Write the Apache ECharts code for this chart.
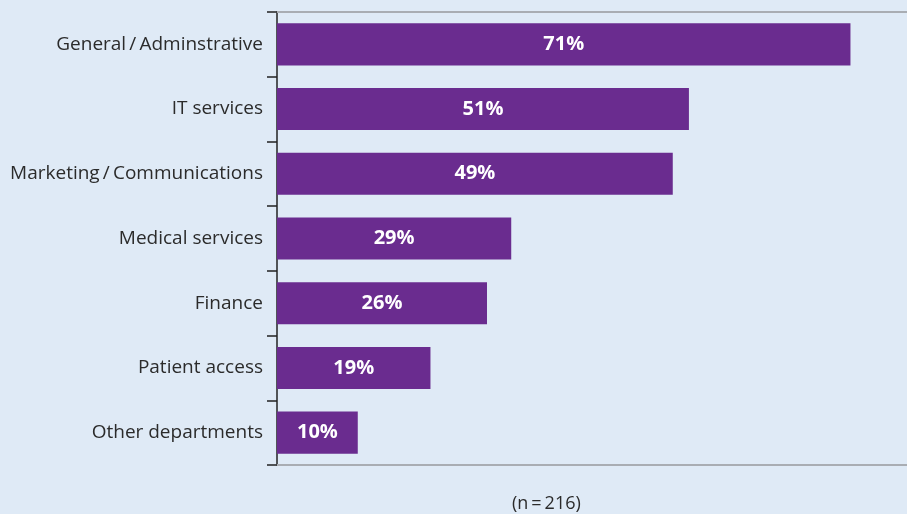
<!DOCTYPE html>
<html>
<head>
<meta charset="utf-8">
<script src="https://cdn.jsdelivr.net/npm/echarts@6/dist/echarts.min.js"></script>
<style>
  html, body { margin: 0; padding: 0; background: #dfeaf6; }
  #chart { width: 907px; height: 514px; }
</style>
</head>
<body>
<div id="chart"></div>
<script>
// Departments, top to bottom
const categories = [
  'General\u2009/\u2009Adminstrative',
  'IT services',
  'Marketing\u2009/\u2009Communications',
  'Medical services',
  'Finance',
  'Patient access',
  'Other departments'
];
// Share of respondents (%)
const values = [71, 51, 49, 29, 26, 19, 10];
const sampleNote = '(n\u2009=\u2009216)';

const FONT = '"Open Sans", "Noto Sans", sans-serif';
const chart = echarts.init(document.getElementById('chart'));

chart.setOption({
  backgroundColor: '#dfeaf6',
  animation: false,
  grid: {
    left: 277, right: 0, top: 12, bottom: 49,
    containLabel: false, outerBoundsMode: 'none'
  },
  xAxis: [
    {
      type: 'value', min: 0, max: 78, position: 'bottom',
      axisLine: { show: true, lineStyle: { color: '#a9adb3', width: 2 } },
      axisTick: { show: false }, axisLabel: { show: false }, splitLine: { show: false }
    },
    {
      type: 'value', min: 0, max: 78, position: 'top',
      axisLine: { show: true, lineStyle: { color: '#a9adb3', width: 2 } },
      axisTick: { show: false }, axisLabel: { show: false }, splitLine: { show: false }
    }
  ],
  yAxis: {
    type: 'category',
    data: categories,
    inverse: true,
    axisLine: { show: true, lineStyle: { color: '#222', width: 1.5 } },
    axisTick: { show: true, length: 10, lineStyle: { color: '#222', width: 1.5 } },
    axisLabel: { color: '#2b2b2b', fontSize: 19, fontFamily: FONT, margin: 14 }
  },
  series: [{
    type: 'bar',
    data: values,
    xAxisIndex: 0,
    barCategoryGap: '35%',
    itemStyle: { color: '#6a2c8f' },
    label: {
      show: true, position: 'inside', formatter: '{c}%',
      color: '#ffffff', fontWeight: 'bold', fontSize: 20, fontFamily: FONT
    }
  }],
  graphic: [{
    type: 'text', left: 512, top: 495,
    style: { text: sampleNote, fill: '#2b2b2b', fontSize: 18, fontFamily: FONT, textAlign: 'center' }
  }]
});
</script>
</body>
</html>
